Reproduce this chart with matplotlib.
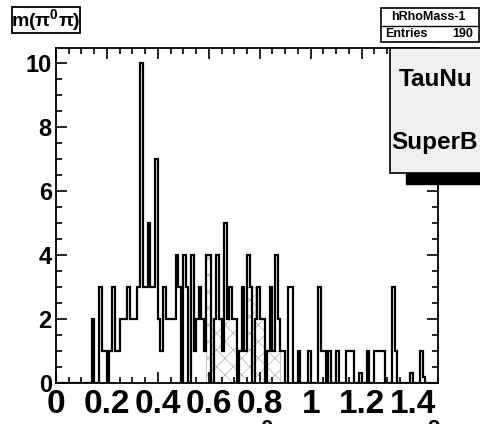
import numpy as np
import matplotlib
matplotlib.use('Agg')
import matplotlib.pyplot as plt
from matplotlib.patches import Rectangle
from matplotlib.ticker import MultipleLocator, FixedLocator, FixedFormatter

plt.rcParams['font.family'] = ['Liberation Sans', 'DejaVu Sans']
plt.rcParams['font.weight'] = 'bold'
plt.rcParams['mathtext.fontset'] = 'custom'
plt.rcParams['mathtext.rm'] = 'Liberation Sans:bold'
plt.rcParams['mathtext.it'] = 'Liberation Sans:bold'
plt.rcParams['mathtext.bf'] = 'Liberation Sans:bold'
plt.rcParams['hatch.linewidth'] = 0.5

# --- data: m(pi0 pi), 150 bins of 0.01 from 0 to 1.5 ---
x_lo, x_hi, n_bins = 0.0, 1.5, 150
counts = [
    0, 0, 0, 0, 0, 0, 0, 0, 0, 0,
    0, 0, 0, 0, 2, 0, 0, 3, 1, 1,
    0, 1, 3, 1, 1, 2, 2, 2, 3, 2,
    2, 2, 3, 10, 3, 3, 5, 3, 3, 7,
    2, 1, 3, 2, 2, 2, 2, 4, 3, 0,
    4, 3, 0, 4, 1, 2, 3, 2, 1, 4,
    4, 0, 2, 4, 2, 1, 5, 2, 3, 2,
    2, 0, 1, 3, 1, 4, 3, 0, 2, 3,
    2, 2, 0, 1, 3, 1, 4, 2, 1, 1,
    0, 3, 3, 0, 0, 1, 0, 0, 0, 1,
    0, 0, 0, 3, 1, 1, 0, 1, 0, 0,
    1, 0, 0, 0, 1, 1, 1, 0, 0, 0.3,
    0, 0, 1, 0, 0, 1, 1, 1, 1, 0,
    0, 0, 3, 1, 0, 0, 0, 0, 0, 0.3,
    0, 0, 0, 1, 0.2, 0, 0, 0, 0, 0,
]
# hatched component, starts at bin 59
hatch_first_bin = 59
hatch_counts = [4, 4, 2, 2, 2, 2, 2, 2, 2, 2, 2, 2, 1, 1, 1, 1,
                3, 3, 3, 2, 2, 2, 2, 1, 1, 1, 1, 1, 1]

xtick_vals = [0, 0.2, 0.4, 0.6, 0.8, 1.0, 1.2, 1.4]
xtick_text = ['0', '0.2', '0.4', '0.6', '0.8', '1', '1.2', '1.4']
ytick_vals = [0, 2, 4, 6, 8, 10]

hist_name = 'hRhoMass-1'
n_entries = 190

edges = np.linspace(x_lo, x_hi, n_bins + 1)
h_edges = edges[hatch_first_bin:hatch_first_bin + len(hatch_counts) + 1]

W, H = 480, 424
fig = plt.figure(figsize=(W / 100, H / 100), dpi=100)
fig.patch.set_facecolor('white')

def fx(px):
    return px / W

def fy(py):
    return 1 - py / H

ax = fig.add_axes([fx(56), fy(383), fx(438) - fx(56), fy(48) - fy(383)])
ax.stairs(hatch_counts, h_edges, fill=True, facecolor='white', edgecolor='#b0b0b0',
          hatch='xx', linewidth=0.5, zorder=1)
ax.stairs(counts, edges, color='black', linewidth=1.6, baseline=0, zorder=2)

ax.set_xlim(x_lo, x_hi)
ax.set_ylim(0, 10.47)
ax.xaxis.set_major_locator(FixedLocator(xtick_vals))
ax.xaxis.set_major_formatter(FixedFormatter(xtick_text))
ax.xaxis.set_minor_locator(MultipleLocator(0.05))
ax.yaxis.set_major_locator(FixedLocator(ytick_vals))
ax.yaxis.set_minor_locator(MultipleLocator(0.5))
ax.tick_params(which='both', direction='in', top=True, right=True, width=1.2)
ax.tick_params(which='major', length=8)
ax.tick_params(which='minor', length=4)
ax.tick_params(axis='x', which='major', labelsize=24, pad=4)
ax.tick_params(axis='y', which='major', labelsize=17, pad=3)
for sp in ax.spines.values():
    sp.set_linewidth(1.3)

# x-axis title, mostly below the canvas edge
fig.text(fx(441), fy(448), 'm(π$^{0}$π)   GeV/c$^{2}$', ha='right', va='baseline',
         fontsize=23, fontweight='bold')

# title box
fig.add_artist(Rectangle((fx(12), fy(33)), fx(80) - fx(12), fy(7) - fy(33),
                         transform=fig.transFigure, facecolor='white',
                         edgecolor='black', linewidth=1.3))
fig.text(fx(46), fy(20), 'm(π$^{0}$π)', ha='center', va='center', fontsize=14,
         fontweight='bold')

# stats box
fig.add_artist(Rectangle((fx(381), fy(42)), fx(479) - fx(381), fy(8) - fy(42),
                         transform=fig.transFigure, facecolor='white',
                         edgecolor='black', linewidth=1.2))
fig.add_artist(plt.Line2D([fx(381), fx(479)], [fy(26), fy(26)],
                          transform=fig.transFigure, color='black', linewidth=1))
fig.text(fx(428), fy(17), hist_name, ha='center', va='center', fontsize=9,
         fontweight='bold')
fig.text(fx(385), fy(34), 'Entries', ha='left', va='center', fontsize=9,
         fontweight='bold')
fig.text(fx(473), fy(34), str(n_entries), ha='right', va='center', fontsize=9,
         fontweight='bold')

# label pave with shadow
fig.add_artist(Rectangle((fx(406), fy(184)), fx(560) - fx(406), fy(60) - fy(184),
                         transform=fig.transFigure, facecolor='black',
                         edgecolor='black', zorder=5))
fig.add_artist(Rectangle((fx(390), fy(173)), fx(550) - fx(390), fy(48) - fy(173),
                         transform=fig.transFigure, facecolor='#f0f0f0',
                         edgecolor='black', linewidth=1.2, zorder=6))
fig.text(fx(399), fy(80), 'TauNu', ha='left', va='center', fontsize=17.5,
         fontweight='bold', zorder=7)
fig.text(fx(391), fy(143), 'SuperB', ha='left', va='center', fontsize=17.5,
         fontweight='bold', zorder=7)

fig.savefig('out.png', dpi=100)
